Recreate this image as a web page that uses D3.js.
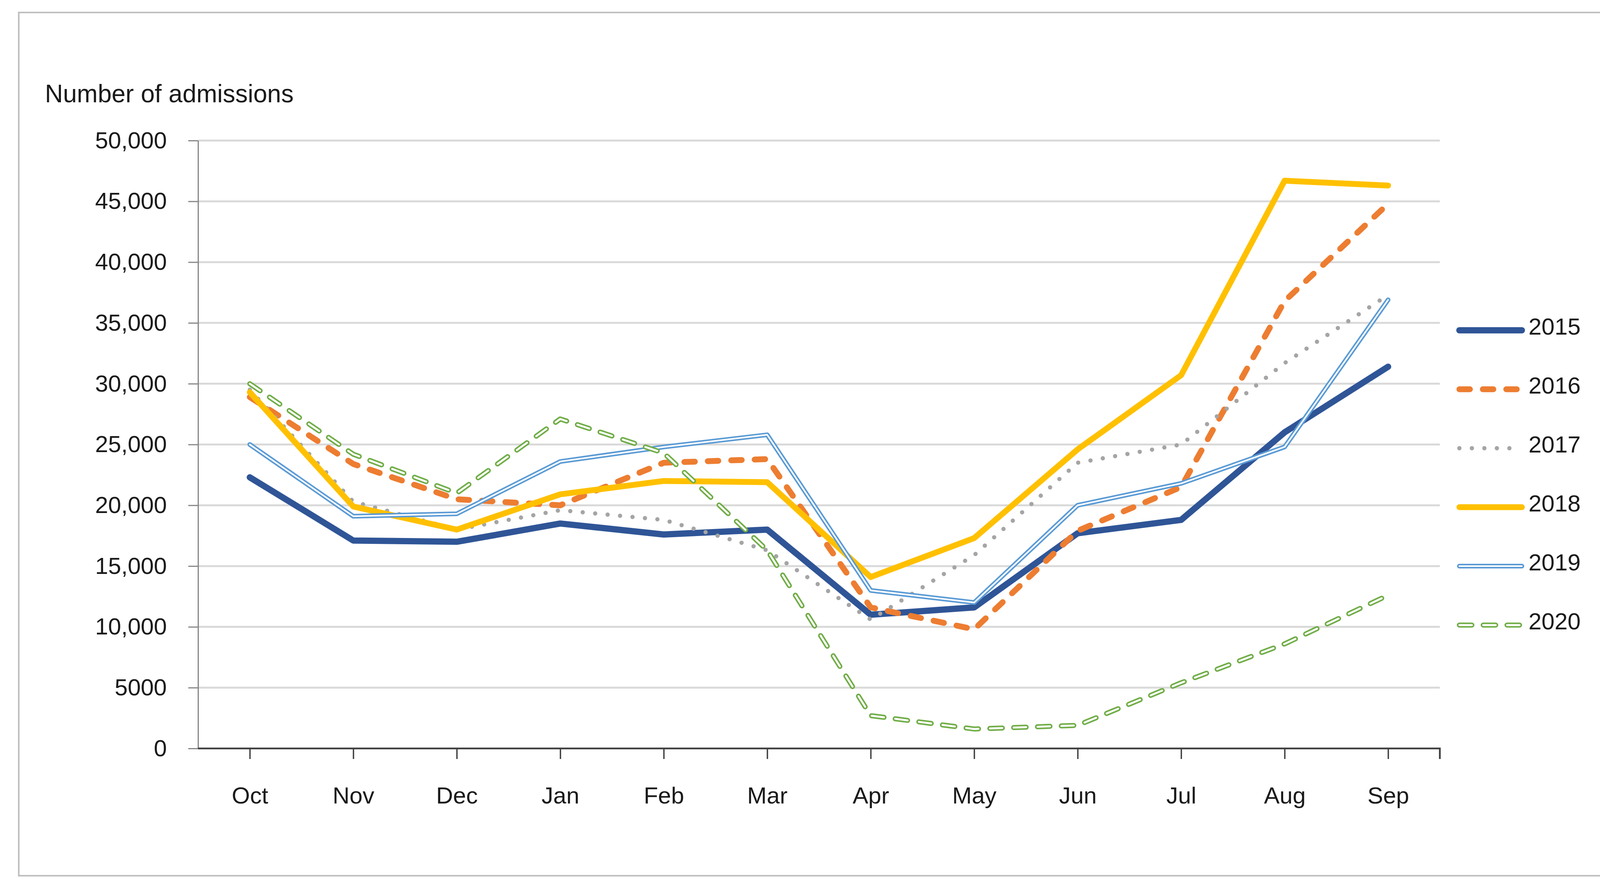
<!DOCTYPE html>
<html>
<head>
<meta charset="utf-8">
<script src="https://cdn.jsdelivr.net/npm/d3@7"></script>
<style>
  html, body { margin: 0; padding: 0; background: #fff; overflow: hidden; }
  svg { display: block; }
  text { font-family: "Liberation Sans", Arial, sans-serif; fill: #1a1a1a; }
</style>
</head>
<body>
<div class="chart"></div>
<script>
// data
var months = ["Oct", "Nov", "Dec", "Jan", "Feb", "Mar", "Apr", "May", "Jun", "Jul", "Aug", "Sep"];
var years = ["2015", "2016", "2017", "2018", "2019", "2020"];
var y2015 = [22300, 17100, 17000, 18500, 17600, 18000, 11000, 11600, 17700, 18800, 26000, 31400];
var y2016 = [28900, 23400, 20500, 20000, 23500, 23800, 11600, 9800, 17900, 21500, 36800, 44800];
var y2017 = [29500, 20300, 18000, 19600, 18800, 16300, 10600, 15900, 23500, 25000, 31700, 37300];
var y2018 = [29300, 19900, 18000, 20900, 22000, 21900, 14100, 17300, 24600, 30700, 46700, 46300];
var y2019 = [25000, 19100, 19300, 23600, 24800, 25800, 13000, 12000, 20000, 21800, 24800, 36900];
var y2020 = [30000, 24200, 21000, 27100, 24300, 16300, 2700, 1600, 1900, 5400, 8600, 12600];
var yTicks = [0, 5000, 10000, 15000, 20000, 25000, 30000, 35000, 40000, 45000, 50000];
var yTickLabels = ["0", "5000", "10,000", "15,000", "20,000", "25,000", "30,000", "35,000", "40,000", "45,000", "50,000"];
var yTitle = "Number of admissions";

var seriesValues = [y2015, y2016, y2017, y2018, y2019, y2020];

// styles per series
var styles = [
    {color: "#2f5597", width: 16, dash: null},
    {color: "#ed7d31", width: 15, dash: "27,33"},
    {color: "#a5a5a5", width: 11, dash: "0,32"},
    {color: "#ffc000", width: 15, dash: null},
    {color: "#5b9bd5", width: 12, dash: null, inner: 4},
    {color: "#70ad47", width: 13, dash: "32,29", inner: 5}
];

var width = 4182, height = 2277;
var svg = d3.select(".chart").append("svg")
            .attr("width", width)
            .attr("height", height);

var plot = {left: 507, right: 3686, top: 360, bottom: 1917};

// outer frame
svg.append("rect")
   .attr("x", 48).attr("y", 32)
   .attr("width", 4102).attr("height", 2211)
   .attr("fill", "#fff")
   .attr("stroke", "#bfbfbf")
   .attr("stroke-width", 4);

// scales
var xScale = d3.scalePoint().domain(months).range([plot.left, plot.right]).padding(0.5);
var yScale = d3.scaleLinear().domain([0, 50000]).range([plot.bottom, plot.top]);

// gridlines
svg.append("g").selectAll("line").data(yTicks.slice(1)).enter().append("line")
   .attr("x1", plot.left).attr("x2", plot.right)
   .attr("y1", function(d) { return yScale(d); })
   .attr("y2", function(d) { return yScale(d); })
   .attr("stroke", "#d9d9d9")
   .attr("stroke-width", 5);

// y axis
var yAxis = d3.axisLeft(yScale)
              .tickValues(yTicks)
              .tickFormat(function(d, i) { return yTickLabels[i]; })
              .tickSize(25).tickSizeOuter(0).tickPadding(55);
var gy = svg.append("g").attr("transform", "translate(" + plot.left + ",0)").call(yAxis);
gy.select(".domain").attr("stroke", "#868686").attr("stroke-width", 3);
gy.selectAll(".tick line").attr("stroke", "#868686").attr("stroke-width", 3);
gy.selectAll(".tick text").style("font-size", "60px").attr("fill", "#1a1a1a");

// x axis
var xAxis = d3.axisBottom(xScale).tickSize(27).tickSizeOuter(0).tickPadding(71);
var gx = svg.append("g").attr("transform", "translate(0," + plot.bottom + ")").call(xAxis);
gx.select(".domain")
  .attr("d", "M" + plot.left + ",0H" + plot.right + "V27")
  .attr("stroke", "#404040").attr("stroke-width", 4.5);
gx.selectAll(".tick line").attr("stroke", "#404040").attr("stroke-width", 3.5);
gx.selectAll(".tick text").style("font-size", "60px").attr("fill", "#1a1a1a");

// axis title
svg.append("text")
   .attr("x", 115).attr("y", 262)
   .style("font-size", "64px")
   .text(yTitle);

// lines
var line = d3.line()
             .x(function(d, i) { return xScale(months[i]); })
             .y(function(d) { return yScale(d); });

function drawStroke(g, pathD, s) {
    var p = g.append("path")
             .attr("d", pathD)
             .attr("fill", "none")
             .attr("stroke", s.color)
             .attr("stroke-width", s.width)
             .attr("stroke-linejoin", "round")
             .attr("stroke-linecap", "round");
    if (s.dash) p.attr("stroke-dasharray", s.dash);
    if (s.inner) {
        var q = g.append("path")
                 .attr("d", pathD)
                 .attr("fill", "none")
                 .attr("stroke", "#fff")
                 .attr("stroke-width", s.inner)
                 .attr("stroke-linejoin", "round")
                 .attr("stroke-linecap", "round");
        if (s.dash) q.attr("stroke-dasharray", s.dash);
    }
}

var lines = svg.append("g");
seriesValues.forEach(function(vals, i) {
    drawStroke(lines.append("g"), line(vals), styles[i]);
});

// legend
var legendY = d3.scalePoint().domain(years).range([846, 846 + 5 * 151]);
var legend = svg.append("g");
years.forEach(function(yr, i) {
    var yy = legendY(yr);
    var g = legend.append("g");
    drawStroke(g, "M3736," + yy + "H3896", styles[i]);
    g.append("text")
     .attr("x", 3913).attr("y", yy - 10)
     .attr("dominant-baseline", "central")
     .style("font-size", "60px")
     .text(yr);
});
</script>
</body>
</html>
